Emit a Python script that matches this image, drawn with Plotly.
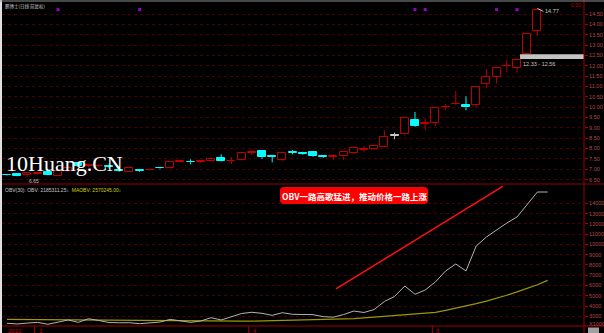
import plotly.graph_objects as go

# ---------------- data ----------------
opens  = [6.73, 6.77, 6.70, 6.79, 6.87, 6.68, 6.92, 7.30, 7.18, 7.15,
          7.18, 6.95, 6.88, 6.94, 6.95, 7.06, 7.05, 7.36, 7.36, 7.36,
          7.38, 7.53, 7.40, 7.43, 7.79, 7.88, 7.62, 7.45, 7.82, 7.78,
          7.85, 7.62, 7.60, 7.62, 7.77, 7.95, 7.96, 8.06, 8.63, 8.68,
          9.38, 9.21, 9.22, 10.01, 10.14, 10.09, 10.10, 11.10, 11.47, 11.99,
          11.91, 12.55, 13.69]
highs  = [6.76, 6.79, 6.82, 6.86, 6.90, 6.95, 7.08, 7.34, 7.26, 7.22,
          7.22, 7.00, 7.10, 6.99, 7.02, 7.10, 7.40, 7.42, 7.48, 7.42,
          7.58, 7.72, 7.58, 7.80, 7.93, 7.93, 7.66, 7.86, 7.92, 7.84,
          7.88, 7.68, 7.73, 7.86, 8.03, 8.12, 8.15, 8.87, 8.77, 9.50,
          9.77, 9.46, 10.00, 10.14, 10.78, 10.52, 11.01, 11.84, 11.90, 12.28,
          12.29, 13.56, 14.77]
lows   = [6.69, 6.66, 6.65, 6.75, 6.71, 6.66, 6.88, 7.12, 7.10, 7.08,
          7.04, 6.88, 6.86, 6.88, 6.92, 7.00, 7.02, 7.32, 7.24, 7.30,
          7.36, 7.38, 7.25, 7.40, 7.69, 7.50, 7.33, 7.40, 7.72, 7.70,
          7.60, 7.55, 7.45, 7.46, 7.74, 7.84, 7.94, 8.04, 8.45, 8.62,
          9.05, 8.90, 9.09, 9.86, 10.10, 9.85, 9.99, 10.93, 11.15, 11.71,
          11.67, 12.50, 13.45]
closes = [6.71, 6.68, 6.80, 6.81, 6.73, 6.93, 7.05, 7.16, 7.20, 7.17,
          7.10, 6.93, 7.06, 6.92, 6.97, 7.04, 7.37, 7.38, 7.34, 7.38,
          7.50, 7.41, 7.42, 7.77, 7.81, 7.58, 7.60, 7.80, 7.80, 7.76,
          7.66, 7.60, 7.62, 7.83, 8.01, 7.97, 8.12, 8.58, 8.63, 9.48,
          9.09, 9.23, 9.97, 10.03, 10.16, 9.99, 10.99, 11.48, 11.88, 12.01,
          12.28, 13.53, 14.69]

obv   = [2320, 2250, 2340, 2410, 2220, 2440, 2640, 2410, 2760, 2590,
         2390, 2370, 2370, 2280, 2340, 2440, 2700, 2570, 2410, 2540,
         2860, 2640, 2960, 3270, 3390, 3290, 3090, 3350, 3190, 3190,
         3160, 2960, 2910, 3170, 3510, 3370, 3660, 4440, 4930, 5950,
         5140, 5560, 6340, 7410, 8090, 7410, 9840, 10720, 11400, 12080,
         12670, 13830, 15100, 15100]
maobv = [2700, 2690, 2690, 2680, 2680, 2670, 2670, 2660, 2650, 2640,
         2630, 2620, 2610, 2590, 2580, 2560, 2550, 2530, 2520, 2500,
         2490, 2500, 2510, 2520, 2530, 2550, 2570, 2590, 2620, 2640,
         2660, 2680, 2700, 2730, 2780, 2850, 2920, 2990, 3040, 3100,
         3190, 3290, 3380, 3580, 3780, 4000, 4230, 4480, 4750, 5050,
         5370, 5690, 6070, 6500]

price_ticks = [6.5, 7.0, 7.5, 8.0, 8.5, 9.0, 9.5, 10.0, 10.5, 11.0,
               11.5, 12.0, 12.5, 13.0, 13.5, 14.0, 14.5]
obv_ticks = [3000, 4000, 5000, 6000, 7000, 8000, 9000, 10000,
             11000, 12000, 13000, 14000]
event_idx = [5, 13, 40, 41, 48, 50]
band_low, band_high = 12.33, 12.56
band_start = 50.3
high_value = 14.77
low_value = 6.65
month_labels = ["2013", "3", "4", "5"]
month_idx = [0, 3, 24, 42]

title_text = "鹏博士(日线 前复权)"
obv_title = "OBV(30): OBV: 2185311.25"
ma_title = "MAOBV: 2570245.00"
callout = "OBV一路高歌猛进，推动价格一路上涨"

# ---------------- styling ----------------
RED = "#c00000"
CYAN = "#00ffff"
GRAY = "#c8c8c8"
AX = "#a00000"
LBL = "#b84848"
GRID = "#480000"

XR = [-0.49, 56.57]
YR1 = [6.287, 14.983]
YR2 = [2053, 15782]


def px(x):
    return (x - 2) / 582.0


def py(y):
    return (326 - y) / 322.0


n = len(closes)
idx = list(range(n))
fills, edges, bases, heights = [], [], [], []
wicks = {"up": ([], []), "down": ([], []), "flat": ([], [])}
for i, (o, h, l, c) in enumerate(zip(opens, highs, lows, closes)):
    if c > o:
        kind, fc, ec = "up", "black", RED
    elif c < o:
        kind, fc, ec = "down", CYAN, CYAN
    else:
        kind, fc, ec = "flat", GRAY, GRAY
    lo_b, hi_b = min(o, c), max(o, c)
    if hi_b - lo_b < 0.02:
        mid = (hi_b + lo_b) / 2
        lo_b, hi_b = mid - 0.01, mid + 0.01
    bases.append(lo_b)
    heights.append(hi_b - lo_b)
    fills.append(fc)
    edges.append(ec)
    wx, wy = wicks[kind]
    if l < lo_b:
        wx += [i, i, None]
        wy += [l, lo_b, None]
    if h > hi_b:
        wx += [i, i, None]
        wy += [hi_b, h, None]

fig = go.Figure()
for kind, col in (("up", RED), ("down", CYAN), ("flat", GRAY)):
    wx, wy = wicks[kind]
    fig.add_trace(go.Scatter(x=wx, y=wy, mode="lines",
                             line=dict(color=col, width=1),
                             xaxis="x", yaxis="y", hoverinfo="skip"))
fig.add_trace(go.Bar(x=idx, y=heights, base=bases, width=0.78,
                     marker=dict(color=fills, line=dict(color=edges, width=1)),
                     xaxis="x", yaxis="y", hoverinfo="skip"))

# event markers at top of price panel
fig.add_trace(go.Scatter(x=event_idx, y=[YR1[1] - 0.27] * len(event_idx),
                         mode="markers",
                         marker=dict(symbol="square", size=3, color="#9a00c8"),
                         xaxis="x", yaxis="y", hoverinfo="skip"))

# OBV panel
fig.add_trace(go.Scatter(x=list(range(len(maobv))), y=maobv, mode="lines",
                         line=dict(color="#9a9a00", width=1.2),
                         xaxis="x2", yaxis="y2", hoverinfo="skip"))
fig.add_trace(go.Scatter(x=list(range(len(obv))), y=obv, mode="lines",
                         line=dict(color="#b4b4b4", width=1),
                         xaxis="x2", yaxis="y2", hoverinfo="skip"))

shapes = []
# highlighted price band
shapes.append(dict(type="rect", xref="x", yref="y", x0=band_start, x1=XR[1],
                   y0=band_low, y1=band_high, fillcolor="#c4c4c4",
                   line=dict(width=0), layer="above"))
# panel separators / frame
shapes.append(dict(type="line", xref="paper", yref="paper", x0=px(0), x1=px(604),
                   y0=py(184), y1=py(184), line=dict(color="#900000", width=1)))
shapes.append(dict(type="line", xref="paper", yref="paper", x0=px(0), x1=px(604),
                   y0=py(326), y1=py(326), line=dict(color="#a00000", width=1)))
shapes.append(dict(type="line", xref="paper", yref="paper", x0=px(584), x1=px(584),
                   y0=py(0), y1=py(333), line=dict(color=AX, width=1)))
shapes.append(dict(type="line", xref="paper", yref="paper", x0=px(1), x1=px(1),
                   y0=py(0), y1=py(333), line=dict(color="#e0e0e0", width=2)))
shapes.append(dict(type="line", xref="paper", yref="paper", x0=px(0), x1=px(604),
                   y0=py(1), y1=py(1), line=dict(color="#909090", width=1)))
# date ticks
for m in month_idx[1:]:
    shapes.append(dict(type="line", xref="x2", yref="paper", x0=m - 0.3, x1=m - 0.3,
                       y0=py(326), y1=py(333), line=dict(color=AX, width=1)))
# trend arrow line
shapes.append(dict(type="line", xref="x2", yref="y2", x0=32.25, y0=5660,
                   x1=48.6, y1=15650, line=dict(color="#ff1010", width=1.5)))
# rounded callout box
bx0, bx1, by0, by1, r = 280, 428, 187, 204, 4
rx, ry = r / 582.0, r / 322.0
X0, X1, Yt, Yb = px(bx0), px(bx1), py(by0), py(by1)
path = (f"M{X0 + rx},{Yt} L{X1 - rx},{Yt} Q{X1},{Yt} {X1},{Yt - ry} "
        f"L{X1},{Yb + ry} Q{X1},{Yb} {X1 - rx},{Yb} L{X0 + rx},{Yb} "
        f"Q{X0},{Yb} {X0},{Yb + ry} L{X0},{Yt - ry} Q{X0},{Yt} {X0 + rx},{Yt} Z")
shapes.append(dict(type="path", xref="paper", yref="paper", path=path,
                   fillcolor="#ff0000", line=dict(width=0)))
# small corner box
shapes.append(dict(type="rect", xref="paper", yref="paper", x0=px(588), x1=px(599),
                   y0=py(333), y1=py(327.5), fillcolor="#a0a0a0", line=dict(width=0)))

ann = []
ann.append(dict(text=title_text, xref="paper", yref="paper", x=px(3), y=py(7),
                xanchor="left", yanchor="middle", showarrow=False,
                font=dict(size=4.5, color="#c8c8c8", family="Noto Sans CJK SC")))
ann.append(dict(text="0.00", xref="paper", yref="paper", x=px(583), y=py(5),
                xanchor="right", yanchor="middle", showarrow=False,
                font=dict(size=5, color="#c00000")))
ann.append(dict(text=f"{band_low:.2f} - {band_high:.2f}", xref="x", yref="y",
                x=band_start + 0.1, y=band_low, xanchor="left", yanchor="top",
                yshift=-0.5, showarrow=False, font=dict(size=5.5, color="#c0c0c0")))
ann.append(dict(text=f"{high_value:.2f}", xref="x", yref="y", x=n - 1, y=high_value,
                showarrow=True, arrowhead=0, arrowwidth=1, arrowcolor="#c0c0c0",
                ax=6, ay=3, xanchor="left", yanchor="middle",
                font=dict(size=5.5, color="#d0d0d0")))
ann.append(dict(text=f"{low_value:.2f}", xref="x", yref="y", x=2.6, y=low_value,
                xanchor="center", yanchor="top", showarrow=False,
                font=dict(size=5, color="#c0c0c0")))
ann.append(dict(text="10Huang.CN", xref="paper", yref="paper", x=px(4), y=py(163),
                xanchor="left", yanchor="middle", showarrow=False,
                font=dict(size=22, color="white", family="Liberation Serif")))
ann.append(dict(text=(f"{obv_title}<span style='color:#00ffff'>↓</span>  "
                      f"<span style='color:#d2d200'>{ma_title}</span>"
                      f"<span style='color:#00ffff'>↓</span>"),
                xref="paper", yref="paper", x=px(3), y=py(189.5),
                xanchor="left", yanchor="middle", showarrow=False,
                font=dict(size=5, color="#c8c8c8", family="Liberation Sans Narrow, Liberation Sans")))
ann.append(dict(text=f"<b>{callout}</b>", xref="paper", yref="paper",
                x=px((bx0 + bx1) / 2), y=py((by0 + by1) / 2),
                xanchor="center", yanchor="middle", showarrow=False,
                font=dict(size=8.5, color="white", family="Noto Sans CJK SC")))
ann.append(dict(text="X1000", xref="paper", yref="paper", x=px(587), y=py(323.5),
                xanchor="left", yanchor="middle", showarrow=False,
                font=dict(size=5.5, color=LBL)))
for m, lab in zip(month_idx, month_labels):
    ann.append(dict(text=lab, xref="x2", yref="paper", x=m - 0.1, y=py(326),
                    xanchor="left", yanchor="top", yshift=0, showarrow=False,
                    font=dict(size=6, color="#c00000")))

fig.update_layout(
    width=604, height=333,
    margin=dict(l=2, r=20, t=4, b=7, autoexpand=False),
    paper_bgcolor="black", plot_bgcolor="black",
    showlegend=False, bargap=0,
    font=dict(family="Liberation Sans", color="#c0c0c0"),
    xaxis=dict(domain=[0, 1], range=XR, anchor="y", showticklabels=False,
               showgrid=False, zeroline=False, automargin=False),
    yaxis=dict(domain=[py(184), 1], range=YR1, anchor="x", side="right",
               tickvals=price_ticks, ticktext=[f"{v:.2f}" for v in price_ticks],
               showgrid=True, gridcolor=GRID, griddash="dot", gridwidth=1,
               showline=False, ticks="outside", ticklen=3, tickcolor=AX,
               tickfont=dict(size=5.5, color=LBL), zeroline=False, automargin=False),
    xaxis2=dict(domain=[0, 1], range=XR, anchor="y2", showticklabels=False,
                showgrid=False, zeroline=False, automargin=False),
    yaxis2=dict(domain=[0, py(185)], range=YR2, anchor="x2", side="right",
                tickvals=obv_ticks, ticktext=[str(v) for v in obv_ticks],
                showgrid=True, gridcolor=GRID, griddash="dot", gridwidth=1,
                showline=False, ticks="outside", ticklen=3, tickcolor=AX,
                tickfont=dict(size=5.5, color=LBL), zeroline=False, automargin=False),
    shapes=shapes,
    annotations=ann,
)

fig.write_html("out.html", config={"displayModeBar": False})
